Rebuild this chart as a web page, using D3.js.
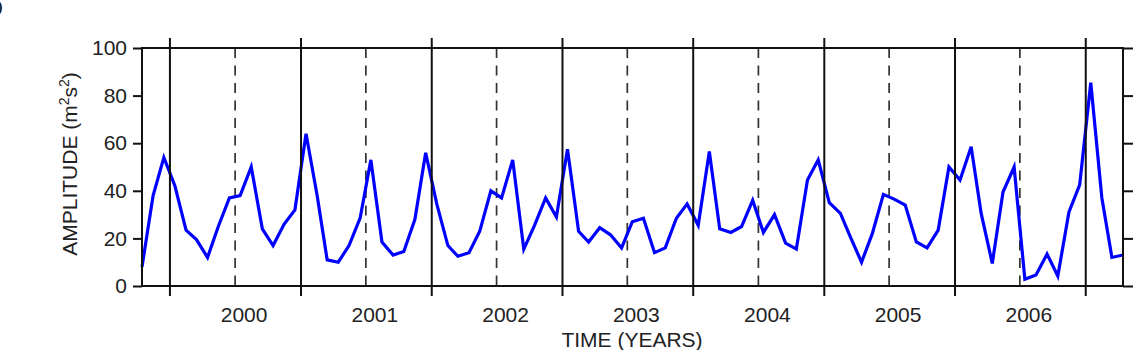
<!DOCTYPE html>
<html>
<head>
<meta charset="utf-8">
<script src="https://cdn.jsdelivr.net/npm/d3@7"></script>
<style>
  html, body { margin: 0; padding: 0; background: #fff; }
  svg { display: block; }
  text { font-family: "Liberation Sans", Arial, sans-serif; fill: #222; }
</style>
</head>
<body>
<svg id="chart" width="1148" height="350"></svg>
<script>
// ---- data (monthly, mid-month, Oct 1999 .. Apr 2007) ----
const startYear = 1999, startMonth = 9; // October (0-based)
const amplitude = [
  8, 38, 54, 42, 23.5, 19.5, 12, 25, 37, 38, 50, 24,
  17, 26, 32, 64, 38, 11, 10, 17, 28.5, 53, 18.5, 13,
  14.5, 28, 56, 34.5, 17, 12.5, 14, 23, 40, 37, 53, 15.5,
  25.5, 37, 29, 57.5, 23, 18.5, 24.5, 21.5, 16, 27, 28.5, 14,
  16, 28.5, 34.5, 25.5, 56.5, 24, 22.5, 25, 36, 22.5, 30, 18,
  15.5, 44.5, 53, 35, 30.5, 20.5, 10, 22, 38.5, 36.5, 34, 18.5,
  16, 23.5, 50, 44.5, 58.5, 30.5, 9.5, 39.5, 50, 2.8, 4.6, 13.4,
  4.2, 31, 42.5, 85.4, 37, 12, 13
];
const yearBoundaries = [2000, 2001, 2002, 2003, 2004, 2005, 2006, 2007];
const yearLabels = ["2000", "2001", "2002", "2003", "2004", "2005", "2006"];
const yTicks = [0, 20, 40, 60, 80, 100];

const dates = amplitude.map((v, i) => new Date(startYear, startMonth + i, 15));

// ---- layout ----
const pLeft = 142, pRight = 1123, pTop = 48, pBottom = 286;
const svg = d3.select("#chart");

const x = d3.scaleTime().domain([dates[0], dates[dates.length - 1]]).range([pLeft, pRight]);
const y = d3.scaleLinear().domain([0, 100]).range([pBottom, pTop]);

// dashed mid-year lines
svg.append("g").selectAll("line")
  .data(yearLabels)
  .join("line")
  .attr("x1", d => x(new Date(+d, 6, 1)))
  .attr("x2", d => x(new Date(+d, 6, 1)))
  .attr("y1", y(100)).attr("y2", y(0))
  .attr("stroke", "#333").attr("stroke-width", 1.7)
  .attr("stroke-dasharray", "10,7.5");

// data line
svg.append("path")
  .datum(amplitude)
  .attr("fill", "none")
  .attr("stroke", "#0000ff")
  .attr("stroke-width", 3.2)
  .attr("stroke-linejoin", "miter")
  .attr("d", d3.line().x((d, i) => x(dates[i])).y(d => y(d)));

// frame
svg.append("rect")
  .attr("x", pLeft).attr("y", pTop)
  .attr("width", pRight - pLeft).attr("height", pBottom - pTop)
  .attr("fill", "none").attr("stroke", "#111").attr("stroke-width", 2);

// solid year-boundary lines (extend beyond frame like ticks)
svg.append("g").selectAll("line")
  .data(yearBoundaries)
  .join("line")
  .attr("x1", d => x(new Date(d, 0, 1)))
  .attr("x2", d => x(new Date(d, 0, 1)))
  .attr("y1", pTop - 10).attr("y2", pBottom + 10)
  .attr("stroke", "#111").attr("stroke-width", 2);

// y axes (left with labels, right ticks only)
const yAxisL = d3.axisLeft(y).tickValues(yTicks).tickSize(9).tickPadding(6);
const gL = svg.append("g").attr("transform", `translate(${pLeft},0)`).call(yAxisL);
gL.select(".domain").remove();
gL.selectAll(".tick line").attr("stroke", "#111").attr("stroke-width", 2);
gL.selectAll(".tick text")
  .style("font-family", "'Liberation Sans', Arial, sans-serif")
  .style("font-size", "21px").attr("fill", "#222");

const yAxisR = d3.axisRight(y).tickValues(yTicks).tickSize(10).tickFormat("");
const gR = svg.append("g").attr("transform", `translate(${pRight},0)`).call(yAxisR);
gR.select(".domain").remove();
gR.selectAll(".tick line").attr("stroke", "#111").attr("stroke-width", 2);

// x year labels
svg.append("g").selectAll("text")
  .data(yearLabels)
  .join("text")
  .attr("x", d => x(new Date(+d, 6, 1)) + 9)
  .attr("y", 322)
  .attr("text-anchor", "middle")
  .style("font-size", "21px")
  .text(d => d);

// axis titles
svg.append("text")
  .attr("x", 632).attr("y", 347)
  .attr("text-anchor", "middle")
  .style("font-size", "21px")
  .text("TIME (YEARS)");

const yl = svg.append("text")
  .attr("transform", "translate(77,164) rotate(-90)")
  .attr("text-anchor", "middle")
  .style("font-size", "21px");
yl.append("tspan").text("AMPLITUDE (m");
yl.append("tspan").attr("dy", -8).style("font-size", "14px").text("2");
yl.append("tspan").attr("dy", 8).text("s");
yl.append("tspan").attr("dy", -8).style("font-size", "14px").text("2");
yl.append("tspan").attr("dy", 8).text(")");

// panel letter, clipped at the left edge as in the reference
svg.append("text")
  .attr("x", -13).attr("y", 15)
  .style("font-size", "26px").style("font-weight", "bold")
  .attr("fill", "#000")
  .text("b");
</script>
</body>
</html>
